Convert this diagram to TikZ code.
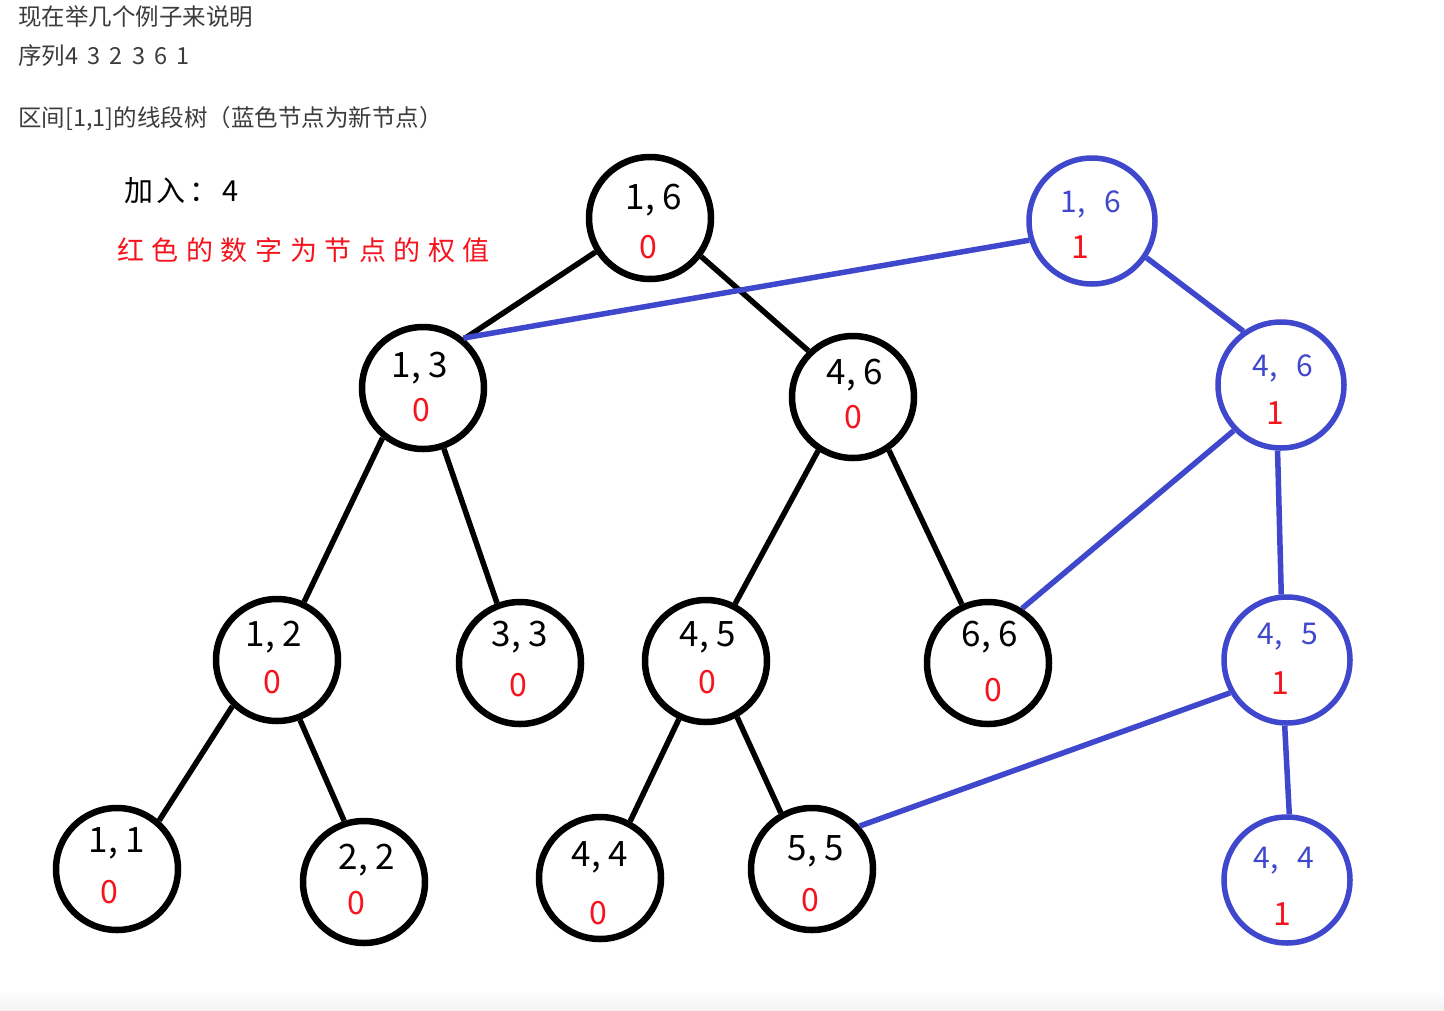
\documentclass[tikz,border=0pt]{standalone}
\usepackage{fontspec}
\setmainfont{Noto Sans CJK SC}
\newfontfamily\cjk{Noto Sans CJK SC}
\definecolor{nblue}{RGB}{63,72,204}
\definecolor{nred}{RGB}{245,20,30}
\definecolor{hgray}{RGB}{60,60,60}
\begin{document}
\begin{tikzpicture}[x=1pt,y=-1pt,
  bc/.style={circle,draw=black,line width=6.5pt,minimum size=122pt,inner sep=0pt},
  uc/.style={circle,draw=nblue,line width=5.5pt,minimum size=126pt,inner sep=0pt},
  bl/.style={font=\cjk\fontsize{35}{35}\selectfont,text=black,inner sep=0pt},
  ul/.style={font=\cjk\fontsize{30}{30}\selectfont,text=nblue,inner sep=0pt},
  wt/.style={font=\cjk\fontsize{32}{32}\selectfont,text=nred,inner sep=0pt},
  be/.style={line width=5.5pt,black},
  ue/.style={line width=5.5pt,nblue},
  hd/.style={anchor=west,font=\cjk\fontsize{23.5}{23.5}\selectfont,text=hgray,inner sep=0pt}]
\useasboundingbox (0,0) rectangle (1444,1010);
\fill[white] (0,0) rectangle (1444,1010);
\shade[top color=white,bottom color=black!5] (0,990) rectangle (1444,1010);

% header texts
\node[hd] (h1) at (18,17) {现在举几个例子来说明};
\node[hd] (h2) at (18,56) {序列4\hspace{4pt} 3\hspace{4pt} 2\hspace{4pt} 3\hspace{4pt} 6\hspace{4pt} 1};
\node[hd] (h3) at (18,119) {区间[1,1]的线段树（蓝色节点为新节点）};
\node[anchor=west,inner sep=0pt,font=\cjk\fontsize{29}{29}\selectfont\addfontfeatures{LetterSpace=12}] (add) at (124,191) {加入：\hspace{4pt}4};
\node[anchor=west,inner sep=0pt,text=nred,font=\cjk\fontsize{27}{27}\selectfont\addfontfeatures{LetterSpace=28}] (note) at (117,250) {红色的数字为节点的权值};

% black tree nodes
\node[bc] (n16) at (650,218) {};
\node[bc] (n13) at (423,388) {};
\node[bc] (n46) at (853,397) {};
\node[bc] (n12) at (277,660) {};
\node[bc] (n33) at (520,663) {};
\node[bc] (n45) at (706,661) {};
\node[bc] (n66) at (988,663) {};
\node[bc] (n11) at (117,869) {};
\node[bc] (n22) at (364,882) {};
\node[bc] (n44) at (600,878) {};
\node[bc] (n55) at (812,869) {};

% black labels
\node[bl] (l16) at (654,200) {1, 6};  \node[wt] (w16) at (648,247) {0};
\node[bl] (l13) at (420,368) {1, 3};  \node[wt] (w13) at (421,410) {0};
\node[bl] (l46) at (855,375) {4, 6};  \node[wt] (w46) at (853,417) {0};
\node[bl] (l12) at (274,637) {1, 2};  \node[wt] (w12) at (272,682) {0};
\node[bl] (l33) at (520,637) {3, 3};  \node[wt] (w33) at (518,685) {0};
\node[bl] (l45) at (708,637) {4, 5};  \node[wt] (w45) at (707,682) {0};
\node[bl] (l66) at (990,637) {6, 6};  \node[wt] (w66) at (993,690) {0};
\node[bl] (l11) at (117,843) {1, 1};  \node[wt] (w11) at (109,892) {0};
\node[bl] (l22) at (367,860) {2, 2};  \node[wt] (w22) at (356,903) {0};
\node[bl] (l44) at (600,857) {4, 4};  \node[wt] (w44) at (598,913) {0};
\node[bl] (l55) at (816,851) {5, 5};  \node[wt] (w55) at (810,900) {0};

% blue nodes
\node[uc] (b16) at (1092,221) {};
\node[uc] (b46) at (1281,385) {};
\node[uc] (b45) at (1287,660) {};
\node[uc] (b44) at (1287,880) {};
\node[ul] (k16) at (1091,204) {1,\,\ \ 6};  \node[wt] (v16) at (1080,247) {1};
\node[ul] (k46) at (1283,368) {4,\,\ \ 6};  \node[wt] (v46) at (1275,413) {1};
\node[ul] (k45) at (1288,637) {4,\,\ \ 5};  \node[wt] (v45) at (1280,683) {1};
\node[ul] (k44) at (1284,861) {4,\,\ \ 4};  \node[wt] (v44) at (1282,914) {1};

% black edges
\draw[be] (n16.212) -- (n13.50);
\draw[be] (n16.323) -- (n46.134);
\draw[be] (n13.231) -- (n12.65);
\draw[be] (n13.289) -- (n33.111);
\draw[be] (n46.237) -- (n45.63);
\draw[be] (n46.304) -- (n66.114);
\draw[be] (n12.226) -- (n11.49);
\draw[be] (n12.291) -- (n22.108);
\draw[be] (n45.245) -- (n44.62);
\draw[be] (n45.299) -- (n55.119);

% blue edges
\draw[ue] (b16.197) -- (n13.51);
\draw[ue] (b16.326) -- (b46.125);
\draw[ue] (b46.224) -- (n66.58);
\draw[ue] (b46.267) -- (b45.95);
\draw[ue] (b45.210) -- (n55.42);
\draw[ue] (b45.268) -- (b44.88);
\end{tikzpicture}
\end{document}
